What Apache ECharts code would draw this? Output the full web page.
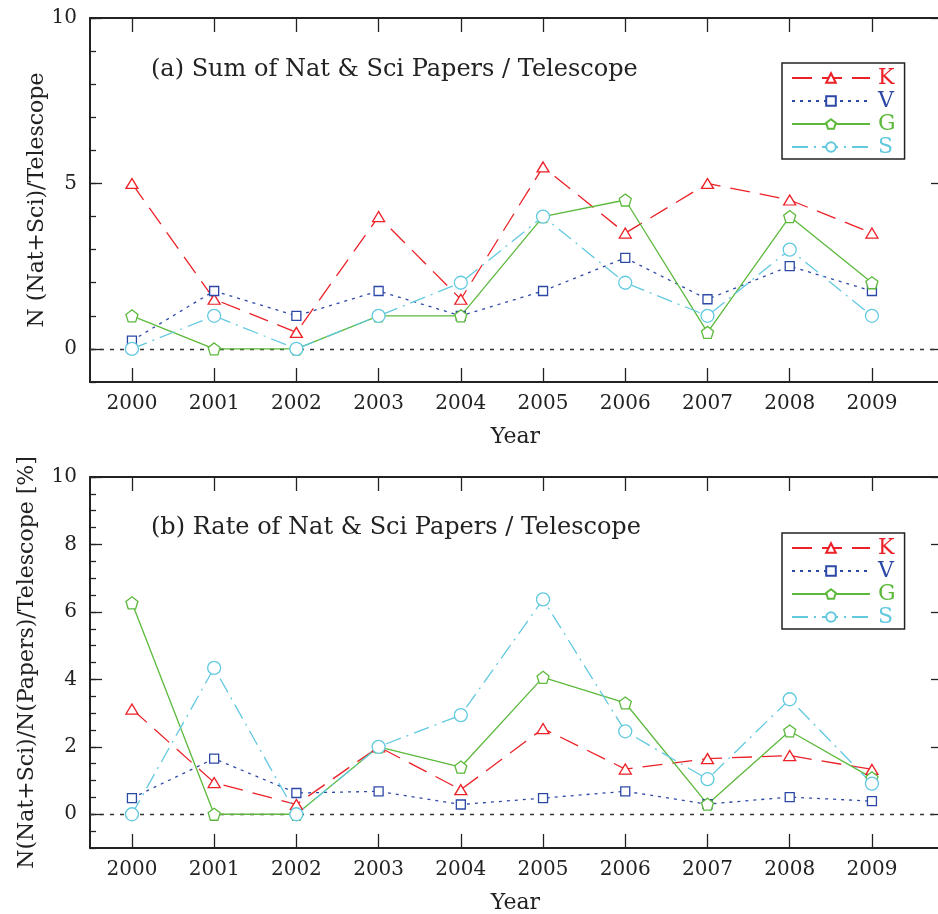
<!DOCTYPE html>
<html>
<head>
<meta charset="utf-8">
<script src="https://cdn.jsdelivr.net/npm/echarts@6/dist/echarts.min.js"></script>
<style>html,body{margin:0;padding:0;background:#fff;}#c{width:938px;height:914px;}</style>
</head>
<body>
<div id="c"></div>
<script>
const years = [2000, 2001, 2002, 2003, 2004, 2005, 2006, 2007, 2008, 2009];
const seriesNames = ['K', 'V', 'G', 'S'];
// Panel (a): Sum of Nat & Sci papers / telescope
const sumK = [5, 1.5, 0.5, 4, 1.5, 5.5, 3.5, 5, 4.5, 3.5];
const sumV = [0.25, 1.75, 1, 1.75, 1, 1.75, 2.75, 1.5, 2.5, 1.75];
const sumG = [1, 0, 0, 1, 1, 4, 4.5, 0.5, 4, 2];
const sumS = [0, 1, 0, 1, 2, 4, 2, 1, 3, 1];
// Panel (b): Rate of Nat & Sci papers / telescope [%]
const rateK = [3.12, 0.94, 0.29, 2.0, 0.73, 2.54, 1.34, 1.65, 1.74, 1.33];
const rateV = [0.48, 1.65, 0.63, 0.68, 0.29, 0.48, 0.68, 0.30, 0.51, 0.39];
const rateG = [6.27, 0, 0, 2.0, 1.40, 4.06, 3.30, 0.30, 2.47, 1.08];
const rateS = [0, 4.34, 0, 2.0, 2.94, 6.37, 2.46, 1.04, 3.41, 0.91];
const ticksA = [0, 5, 10];
const ticksB = [0, 2, 4, 6, 8, 10];

const FONT = 'DejaVu Serif';
const colors = { K: '#ec2027', V: '#2c48a6', G: '#5cb93c', S: '#62c9df' };
const dashes = { K: [20, 10], V: [3, 5], G: 'solid', S: [16, 6, 2, 6] };
const symbols = {
  K: 'triangle', V: 'rect', G: 'path://M0,-1 L0.951,-0.309 L0.588,0.809 L-0.588,0.809 L-0.951,-0.309 Z', S: 'circle'
};
const symSizes = { K: [12, 10], V: 9, G: 12, S: 13 };

const xMin = 1999.49, xMax = 2009.84;
const axisColor = '#222';

function xAx(grid, pos, withLabel, gap) {
  return {
    type: 'value', gridIndex: grid, position: pos, min: xMin, max: xMax,
    axisLine: { show: true, onZero: false, lineStyle: { color: axisColor, width: 2 } },
    axisTick: { show: true, inside: true, length: 14, customValues: years, lineStyle: { color: axisColor, width: 1.3 } },
    axisLabel: withLabel ? { show: true, customValues: years, margin: 12, color: axisColor, fontFamily: FONT, fontSize: 20, formatter: v => String(Math.round(v)) } : { show: false },
    splitLine: { show: false },
    name: withLabel ? 'Year' : '', nameLocation: 'middle', nameGap: gap || 44, nameMoveOverlap: false,
    nameTextStyle: { color: axisColor, fontFamily: FONT, fontSize: 22 }
  };
}
function yMain(grid, ticks, name, gap) {
  return {
    type: 'value', gridIndex: grid, position: 'left', min: -1, max: 10,
    axisLine: { show: true, onZero: false, lineStyle: { color: axisColor, width: 2 } },
    axisTick: { show: true, inside: true, length: 12, customValues: ticks, lineStyle: { color: axisColor, width: 1.3 } },
    axisLabel: { show: true, customValues: ticks, margin: 13, color: axisColor, fontFamily: FONT, fontSize: 20 },
    splitLine: { show: false },
    name: name, nameLocation: 'middle', nameGap: gap, nameMoveOverlap: false,
    nameTextStyle: { color: axisColor, fontFamily: FONT, fontSize: 22 }
  };
}
function yMinor(grid, interval) {
  return {
    type: 'value', gridIndex: grid, position: 'left', min: -1, max: 10, interval: interval,
    axisLine: { show: false },
    axisTick: { show: true, inside: true, length: 6, lineStyle: { color: axisColor, width: 1.3 } },
    axisLabel: { show: false }, splitLine: { show: false }
  };
}
function yRight(grid, ticks) {
  return {
    type: 'value', gridIndex: grid, position: 'right', min: -1, max: 10,
    axisLine: { show: false },
    axisTick: { show: true, inside: true, length: 10, customValues: ticks, lineStyle: { color: axisColor, width: 1.3 } },
    axisLabel: { show: false }, splitLine: { show: false }
  };
}

function makeSeries(name, vals, xi, yi, withZero) {
  const s = {
    type: 'line', name: name, xAxisIndex: xi, yAxisIndex: yi,
    data: years.map((y, i) => [y, vals[i]]),
    symbol: symbols[name], symbolSize: symSizes[name], showSymbol: true,
    lineStyle: { color: colors[name], width: 1.3, type: dashes[name] },
    itemStyle: { color: '#fff', borderColor: colors[name], borderWidth: 1.3 },
    z: 3, animation: false
  };
  if (withZero) {
    s.markLine = {
      silent: true, symbol: 'none', label: { show: false }, z: 1,
      lineStyle: { color: '#333', type: [4, 6], width: 1.4 },
      data: [{ yAxis: 0 }], animation: false
    };
  }
  return s;
}

function legend(top) {
  return {
    orient: 'vertical', left: 782, top: top,
    backgroundColor: '#fff', borderColor: '#222', borderWidth: 1.5,
    padding: [4, 9, 1, 9], itemWidth: 78, itemHeight: 12, itemGap: 1,
    textStyle: { fontFamily: FONT, fontSize: 22, lineHeight: 20, padding: [0, 0, 0, 3] },
    data: seriesNames.map(n => ({ name: n, textStyle: { color: colors[n] } })),
    selectedMode: false
  };
}

const chart = echarts.init(document.getElementById('c'), null, { renderer: 'canvas' });
chart.setOption({
  animation: false,
  backgroundColor: '#fff',
  title: [
    { text: '(a) Sum of Nat & Sci Papers / Telescope', left: 146, top: 53,
      textStyle: { fontFamily: FONT, fontSize: 24, fontWeight: 'normal', color: axisColor } },
    { text: '(b) Rate of Nat & Sci Papers / Telescope', left: 146, top: 511,
      textStyle: { fontFamily: FONT, fontSize: 24, fontWeight: 'normal', color: axisColor } }
  ],
  legend: [legend(63), legend(533)],
  grid: [
    { left: 90, top: 18, right: -3, height: 364, outerBoundsMode: 'none', containLabel: false },
    { left: 90, top: 477, right: -3, height: 371, outerBoundsMode: 'none', containLabel: false }
  ],
  xAxis: [xAx(0, 'bottom', true, 44), xAx(0, 'top', false), xAx(1, 'bottom', true, 44), xAx(1, 'top', false)],
  yAxis: [
    yMain(0, ticksA, 'N (Nat+Sci)/Telescope', 42), yMinor(0, 1), yRight(0, ticksA),
    yMain(1, ticksB, 'N(Nat+Sci)/N(Papers)/Telescope [%]', 52), yMinor(1, 0.5), yRight(1, ticksB)
  ],
  series: [
    makeSeries('K', sumK, 0, 0, true),
    makeSeries('V', sumV, 0, 0, false),
    makeSeries('G', sumG, 0, 0, false),
    makeSeries('S', sumS, 0, 0, false),
    makeSeries('K', rateK, 2, 3, true),
    makeSeries('V', rateV, 2, 3, false),
    makeSeries('G', rateG, 2, 3, false),
    makeSeries('S', rateS, 2, 3, false)
  ]
});
</script>
</body>
</html>
